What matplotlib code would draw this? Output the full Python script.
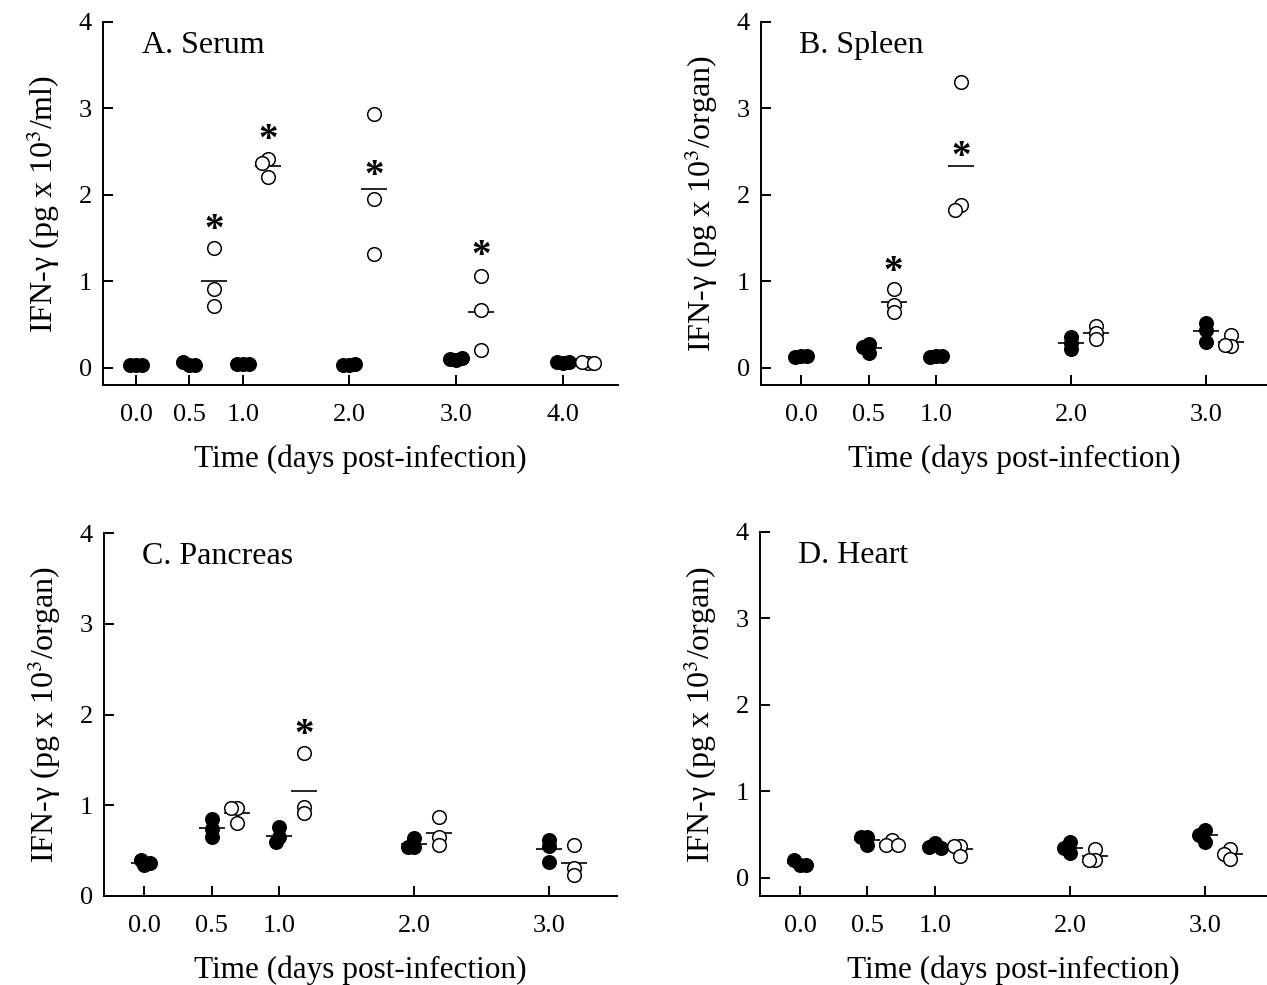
import numpy as np
import matplotlib
matplotlib.use("Agg")
import matplotlib.pyplot as plt

plt.rcParams['font.family'] = ['Liberation Serif', 'DejaVu Serif']
plt.rcParams['mathtext.fontset'] = 'stix'

# ---- data (IFN-gamma, pg x 10^3) ----
# filled = closed circles, open = open circles, one list of 3 mice per time point
serum_times = [0.0, 0.5, 1.0, 2.0, 3.0, 4.0]
serum_filled = [[0.03, 0.03, 0.03], [0.03, 0.07, 0.03], [0.04, 0.04, 0.04],
                [0.03, 0.03, 0.04], [0.09, 0.10, 0.11], [0.06, 0.07, 0.07]]
serum_open = [None, [1.39, 0.91, 0.71], [2.42, 2.37, 2.21],
              [2.93, 1.95, 1.32], [1.06, 0.67, 0.21], [0.05, 0.07, 0.06]]
serum_stars = [(0.5, 1.67), (1.0, 2.71), (2.0, 2.29), (3.0, 1.37)]

spleen_times = [0.0, 0.5, 1.0, 2.0, 3.0]
spleen_filled = [[0.13, 0.12, 0.13], [0.17, 0.27, 0.24], [0.13, 0.12, 0.13],
                 [0.22, 0.36, 0.29], [0.52, 0.44, 0.30]]
spleen_open = [None, [0.91, 0.72, 0.65], [3.30, 1.88, 1.82],
               [0.48, 0.40, 0.33], [0.38, 0.25, 0.26]]
spleen_stars = [(0.5, 1.19), (1.0, 2.52)]

pancreas_times = [0.0, 0.5, 1.0, 2.0, 3.0]
pancreas_filled = [[0.34, 0.40, 0.36], [0.85, 0.74, 0.65], [0.76, 0.65, 0.59],
                   [0.64, 0.54, 0.54], [0.62, 0.55, 0.37]]
pancreas_open = [None, [0.97, 0.97, 0.80], [1.58, 0.98, 0.91],
                 [0.87, 0.65, 0.56], [0.56, 0.31, 0.23]]
pancreas_stars = [(1.0, 1.85)]

heart_times = [0.0, 0.5, 1.0, 2.0, 3.0]
heart_filled = [[0.15, 0.21, 0.15], [0.47, 0.47, 0.38], [0.40, 0.36, 0.35],
                [0.41, 0.35, 0.29], [0.55, 0.50, 0.42]]
heart_open = [None, [0.44, 0.38, 0.38], [0.37, 0.37, 0.25],
              [0.33, 0.21, 0.21], [0.33, 0.28, 0.22]]
heart_stars = []

W, H = 1267, 985
fig = plt.figure(figsize=(W / 100, H / 100), dpi=100)


def px_box(l, t, r, b):
    return [l / W, 1 - b / H, (r - l) / W, (b - t) / H]


def days_per_px(ax):
    p0 = ax.transData.transform((0, 0))
    p1 = ax.transData.transform((1, 0))
    return 1.0 / (p1[0] - p0[0])


def swarm_x(ax, x0, vals, min_px=6, step_px=3):
    # spread overlapping points sideways a little, like the original
    pts = ax.transData.transform([(x0, v) for v in vals])
    placed = []
    for px, py in pts:
        for k in [0, -1, 1, -2, 2, -3, 3]:
            cx = px + k * step_px
            if all(np.hypot(cx - qx, py - qy) >= min_px for qx, qy in placed):
                break
        placed.append((cx, py))
    return ax.transData.inverted().transform(placed)[:, 0]


def panel(box, xlim, ylim, times, filled, opened, stars, title, ylabel):
    ax = fig.add_axes(px_box(*box))
    ax.set_xlim(*xlim)
    ax.set_ylim(*ylim)
    dpp = days_per_px(ax)
    shift = 25 * dpp
    hw = 13 * dpp

    for t, f, o in zip(times, filled, opened):
        xs = swarm_x(ax, t, f)
        ax.plot(xs, f, 'o', ms=9.8, mfc='black', mec='black', mew=1.0, zorder=3)
        ax.hlines(np.mean(f), t - hw, t + hw, color='black', lw=1.2, zorder=2)
        if o is not None:
            xo = swarm_x(ax, t + shift, o)
            ax.plot(xo, o, 'o', ms=9.8, mfc='white', mec='black', mew=1.1, zorder=3)
            ax.hlines(np.mean(o), t + shift - hw, t + shift + hw,
                      color='black', lw=1.2, zorder=2)

    for t, y in stars:
        ax.annotate('*', (t + shift, y), xytext=(0, -12), textcoords='offset points',
                    ha='center', va='baseline', fontsize=28, fontweight='bold')

    ax.spines['top'].set_visible(False)
    ax.spines['right'].set_visible(False)
    for s in ['left', 'bottom']:
        ax.spines[s].set_linewidth(1.4)
    ax.spines['left'].set_bounds(ylim[0], 4)

    ax.set_xticks(times)
    ax.set_xticklabels(['%.1f' % t for t in times])
    ax.set_yticks([0, 1, 2, 3, 4])
    ax.tick_params(direction='in', length=7, width=1.4, labelsize=19)
    ax.tick_params(axis='x', pad=14)
    ax.tick_params(axis='y', pad=8)

    ax.set_xlabel('Time (days post-infection)', fontsize=22.5, labelpad=13)
    ax.set_ylabel(ylabel, fontsize=23, labelpad=12)
    ax.text(0.075, 0.915, title, transform=ax.transAxes, fontsize=23,
            ha='left', va='baseline')
    return ax


yl_ml = 'IFN-\u03b3 (pg x 10$^{3}$/ml)'
yl_org = 'IFN-\u03b3 (pg x 10$^{3}$/organ)'

panel((103, 22, 618, 385), (-0.31, 4.52), (-0.2, 4), serum_times,
      serum_filled, serum_open, serum_stars, 'A. Serum', yl_ml)
panel((761, 22, 1267, 385), (-0.296, 3.45), (-0.2, 4), spleen_times,
      spleen_filled, spleen_open, spleen_stars, 'B. Spleen', yl_org)
panel((104, 533, 617, 896), (-0.296, 3.50), (0, 4), pancreas_times,
      pancreas_filled, pancreas_open, pancreas_stars, 'C. Pancreas', yl_org)
panel((760, 532, 1267, 896), (-0.296, 3.46), (-0.21, 4), heart_times,
      heart_filled, heart_open, heart_stars, 'D. Heart', yl_org)

fig.savefig('out.png', dpi=100)
